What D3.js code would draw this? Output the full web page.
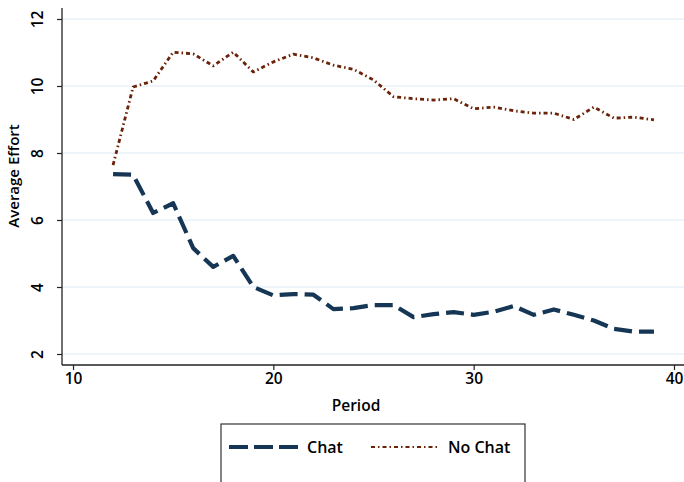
<!DOCTYPE html>
<html><head><meta charset="utf-8">
<script src="https://cdn.jsdelivr.net/npm/d3@7"></script>
<style>body{margin:0;background:#fff}svg{display:block}text{font-family:"Open Sans","Noto Sans",sans-serif;font-weight:600}</style>
</head><body><svg id="c" width="684" height="482"></svg>
<script>
const periods = [12,13,14,15,16,17,18,19,20,21,22,23,24,25,26,27,28,29,30,31,32,33,34,35,36,37,38,39];
const chat   = [7.37,7.35,6.21,6.5,5.16,4.6,4.93,4.0,3.75,3.79,3.77,3.34,3.37,3.46,3.46,3.1,3.19,3.25,3.17,3.26,3.43,3.17,3.33,3.17,3.0,2.75,2.67,2.67];
const noChat = [7.64,9.97,10.15,11.01,10.96,10.6,11.01,10.42,10.72,10.95,10.84,10.62,10.5,10.18,9.68,9.62,9.58,9.62,9.32,9.37,9.26,9.19,9.19,9.0,9.37,9.04,9.07,8.99];
const xTicks = [10,20,30,40];
const yTicks = [2,4,6,8,10,12];

const svg = d3.select("#c");
const x = d3.scaleLinear().domain([10,40]).range([73,674]);
const y = d3.scaleLinear().domain([2,12]).range([354,19]);
const pLeft = 62, pBottom = 365, pRight = 684, pTop = 8;

// grid
svg.append("g").selectAll("line").data(yTicks).join("line")
  .attr("x1", pLeft).attr("x2", pRight).attr("y1", d=>y(d)).attr("y2", d=>y(d))
  .attr("stroke", "#dcebf5").attr("stroke-width", 1.2);

// axes
const ya = svg.append("g").attr("transform", `translate(${pLeft},0)`)
  .call(d3.axisLeft(y).tickValues(yTicks).tickSize(5).tickSizeOuter(0).tickFormat(d3.format("d")));
ya.select(".domain").attr("d", `M0,${pTop}V${pBottom}`).attr("stroke","#222").attr("stroke-width",1.3);
ya.selectAll(".tick line").attr("stroke","#222").attr("stroke-width",1.2);
ya.selectAll(".tick text").attr("font-size",15.5).attr("fill","#000").attr("font-weight",500)
  .attr("x",0).attr("y",0).attr("dy","0.35em").attr("text-anchor","middle")
  .attr("transform", "translate(-24,0) rotate(-90)");

const xa = svg.append("g").attr("transform", `translate(0,${pBottom})`)
  .call(d3.axisBottom(x).tickValues(xTicks).tickSize(5).tickSizeOuter(0).tickFormat(d3.format("d")));
xa.select(".domain").attr("d", `M${pLeft},0H${pRight}`).attr("stroke","#222").attr("stroke-width",1.3);
xa.selectAll(".tick line").attr("stroke","#222").attr("stroke-width",1.2);
xa.selectAll(".tick text").attr("font-size",15.5).attr("fill","#000").attr("font-weight",600).attr("y",8).attr("dy","0.71em");

// axis titles
svg.append("text").attr("x",356).attr("y",411).attr("text-anchor","middle").attr("font-size",15.5).attr("fill","#000").text("Period");
svg.append("text").attr("transform","translate(19,176) rotate(-90)").attr("text-anchor","middle").attr("font-size",15).attr("fill","#000").text("Average Effort");

// lines
const line = d3.line().x(d=>x(d[0])).y(d=>y(d[1]));
const chatColor = "#163655", noChatColor = "#6a2208";
svg.append("path").datum(periods.map((p,i)=>[p,noChat[i]])).attr("d", line)
  .attr("fill","none").attr("stroke",noChatColor).attr("stroke-width",2.8)
  .attr("stroke-dasharray","4,3,1.5,3").attr("stroke-linejoin","round");
svg.append("path").datum(periods.map((p,i)=>[p,chat[i]])).attr("d", line)
  .attr("fill","none").attr("stroke",chatColor).attr("stroke-width",4.2)
  .attr("stroke-dasharray","18,7").attr("stroke-linejoin","round");

// legend
const lg = svg.append("g");
lg.append("rect").attr("x",221).attr("y",424).attr("width",304).attr("height",70)
  .attr("fill","#fff").attr("stroke","#333").attr("stroke-width",1.2);
lg.append("line").attr("x1",229).attr("x2",298).attr("y1",447).attr("y2",447)
  .attr("stroke",chatColor).attr("stroke-width",4).attr("stroke-dasharray","19,6");
lg.append("text").attr("x",307).attr("y",453).attr("font-size",16).attr("fill","#000").text("Chat");
lg.append("line").attr("x1",371).attr("x2",438).attr("y1",447).attr("y2",447)
  .attr("stroke",noChatColor).attr("stroke-width",2.2).attr("stroke-dasharray","4,3,1.5,3");
lg.append("text").attr("x",448).attr("y",453).attr("font-size",16).attr("fill","#000").text("No Chat");
</script></body></html>
